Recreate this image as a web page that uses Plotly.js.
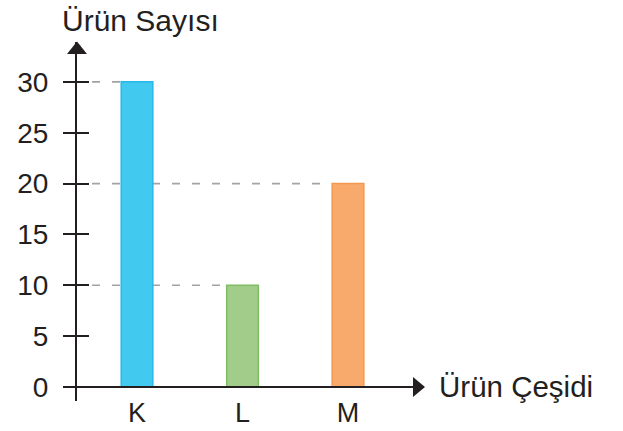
<!DOCTYPE html>
<html>
<head>
<meta charset="utf-8">
<script src="https://cdn.plot.ly/plotly-3.0.1.min.js"></script>
<style>html,body{margin:0;padding:0;background:#fff;}#chart{width:623px;height:431px;}</style>
</head>
<body>
<div id="chart"></div>
<script>
// ---- data ----
const categories = ['K', 'L', 'M'];
const values = [30, 10, 20];
const yTickValues = [0, 5, 10, 15, 20, 25, 30];
const yAxisTitle = 'Ürün Sayısı';
const xAxisTitle = 'Ürün Çeşidi';

// ---- styles ----
const fillColors = ['#41c9f0', '#a1cc89', '#f8aa6d'];
const edgeColors = ['#2ab8ec', '#7fbe63', '#f4974f'];
const ink = '#231f20';
const FONT = 'Liberation Sans, Arial, sans-serif';

// ---- geometry (pixels) ----
const W = 623, H = 431;
const plotL = 77, plotR = 425, plotT = 42, plotB = 401;
const barW = 0.3;
const xRange = [-0.569, 2.730];
const yRange = [-1.377, 33.92];
const pxPerX = (plotR - plotL) / (xRange[1] - xRange[0]);
const pw = plotR - plotL, ph = plotB - plotT;
const px = v => (v - plotL) / pw;           // pixel -> paper x
const py = v => (plotB - v) / ph;           // pixel -> paper y

const trace = {
  type: 'bar',
  x: categories.map((c, i) => i),
  y: values,
  width: barW,
  marker: { color: fillColors, line: { color: edgeColors, width: 1.5 } },
  hoverinfo: 'skip'
};

// dashed guides from axis to left edge of the bar holding each value
const dashStartX = xRange[0] + (92 - plotL) / pxPerX;
const guides = values.map((v, i) => ({
  type: 'line', layer: 'below', xref: 'x', yref: 'y',
  x0: dashStartX, x1: i - barW / 2, y0: v, y1: v,
  line: { color: '#a3a3a3', width: 1.6, dash: '8px,12px' }
}));

const axisShapes = [
  { type: 'line', xref: 'paper', yref: 'y', x0: px(63), x1: px(414), y0: 0, y1: 0,
    line: { color: ink, width: 2 } },
  { type: 'path', xref: 'paper', yref: 'paper',
    path: `M ${px(425)} ${py(387)} L ${px(413)} ${py(377)} L ${px(413)} ${py(397)} Z`,
    fillcolor: ink, line: { width: 0 } },
  { type: 'path', xref: 'paper', yref: 'paper',
    path: `M ${px(77)} ${py(41.5)} L ${px(67)} ${py(54)} L ${px(87)} ${py(54)} Z`,
    fillcolor: ink, line: { width: 0 } }
];

const layout = {
  width: W, height: H,
  margin: { l: plotL, r: W - plotR, t: plotT, b: H - plotB, pad: 0 },
  paper_bgcolor: '#fff', plot_bgcolor: 'rgba(0,0,0,0)',
  showlegend: false,
  font: { family: FONT, color: ink },
  title: { text: yAxisTitle, xref: 'container', yref: 'container',
           x: 62 / W, xanchor: 'left', y: 1 - 20 / H, yanchor: 'middle',
           font: { family: FONT, size: 30, color: ink } },
  xaxis: {
    range: xRange, tickmode: 'array',
    tickvals: categories.map((c, i) => i), ticktext: categories,
    showgrid: false, zeroline: false, showline: false, ticks: '',
    tickfont: { family: FONT, size: 27, color: ink },
    ticklabelstandoff: -7, fixedrange: true
  },
  yaxis: {
    range: yRange, tickmode: 'array', tickvals: yTickValues,
    showgrid: false, zeroline: false,
    showline: true, linecolor: ink, linewidth: 2,
    ticks: 'outside', ticklen: 12, tickwidth: 2, tickcolor: ink,
    tickfont: { family: FONT, size: 28, color: ink },
    ticklabelstandoff: 9, fixedrange: true
  },
  yaxis2: {
    range: yRange, overlaying: 'y', anchor: 'x', side: 'left',
    tickmode: 'array', tickvals: yTickValues,
    showgrid: false, zeroline: false, showline: false,
    ticks: 'inside', ticklen: 12, tickwidth: 2, tickcolor: ink,
    showticklabels: false, fixedrange: true
  },
  shapes: guides.concat(axisShapes),
  annotations: [{
    text: xAxisTitle, xref: 'paper', yref: 'y',
    x: px(437), y: 0, xanchor: 'left', yanchor: 'middle',
    showarrow: false, font: { family: FONT, size: 29.5, color: ink }
  }]
};

const helper = { type: 'scatter', x: [0], y: [0], yaxis: 'y2', mode: 'markers',
                 marker: { opacity: 0 }, hoverinfo: 'skip' };

Plotly.newPlot('chart', [trace, helper], layout, { displayModeBar: false, staticPlot: true });
</script>
</body>
</html>
